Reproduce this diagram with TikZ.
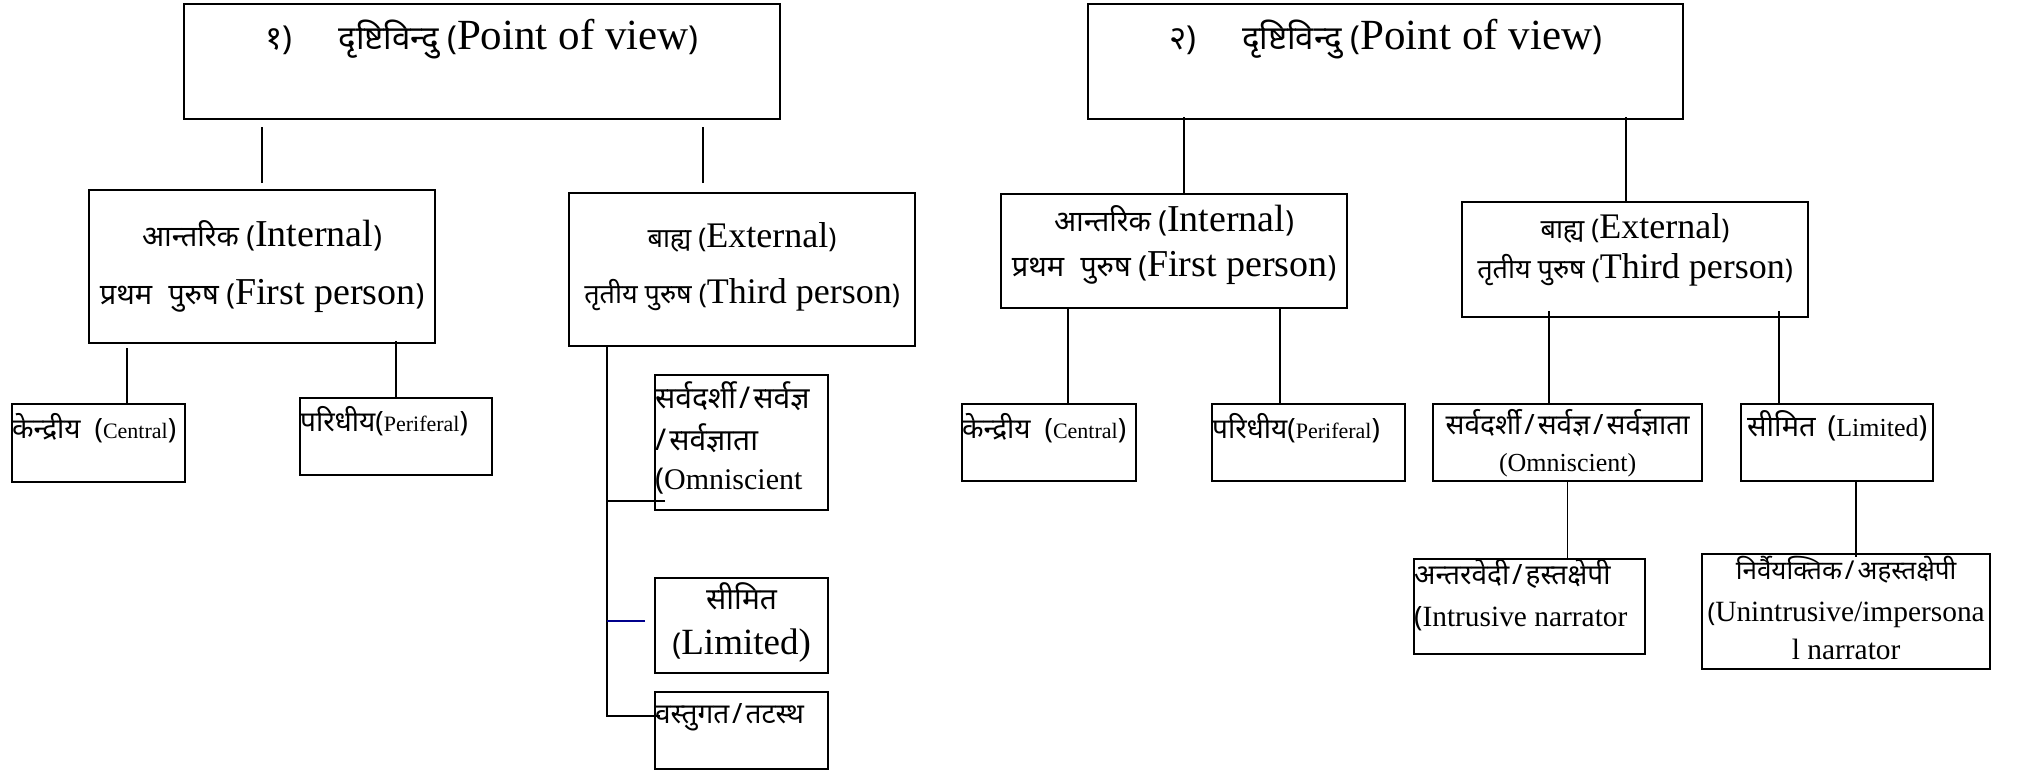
\documentclass[tikz,border=0pt]{standalone}
\usepackage{fontspec}
\setmainfont{Liberation Serif}
\newfontfamily\devfont[Script=Devanagari]{Noto Sans}
\usepackage{tikz}
\definecolor{linkblue}{RGB}{0,0,140}
\setlength{\lineskiplimit}{-100pt}
\tikzstyle{mybox} = [draw=black, line width=1.1pt, rectangle, inner sep=0pt, anchor=north west]
\tikzstyle{link} = [draw=black, line width=0.85pt]
\tikzstyle{bluelink} = [draw=linkblue, line width=0.85pt]
\newcommand{\deva}[2]{{\devfont\fontsize{#1}{#1}\selectfont #2}}
\newcommand{\dslash}{\kern1.5pt/\kern1.5pt}

\begin{document}
\begin{tikzpicture}[x=0.5pt, y=-0.5pt]
\useasboundingbox (0,0) rectangle (2022,771);

\node[mybox] (top1) at (183,3) {\begin{minipage}[t][57.5pt][t]{298pt}\centering\fontsize{21.5}{24}\selectfont
\rule{0pt}{22.5pt}\smash{\deva{16.5}{१)}\hspace{23pt}\deva{16.5}{दृष्टिविन्दु (}Point of view\deva{16.5}{)}}
\end{minipage}};
\node[mybox] (int1) at (88,189) {\begin{minipage}[t][76.5pt][t]{173pt}\centering\fontsize{19}{29}\selectfont
\rule{0pt}{28pt}\smash{\deva{14.5}{आन्तरिक (}Internal\deva{14.5}{)}}\\
\deva{14.5}{प्रथम\hspace{8pt}पुरुष (}First person\deva{14.5}{)}
\end{minipage}};
\node[mybox] (ext1) at (568,192) {\begin{minipage}[t][76.5pt][t]{173pt}\centering\fontsize{18}{28}\selectfont
\rule{0pt}{27pt}\smash{\deva{13.5}{बाह्य (}External\deva{13.5}{)}}\\
\deva{13.5}{तृतीय पुरुष (}Third person\deva{13.5}{)}
\end{minipage}};
\node[mybox] (cen1) at (11,403) {\begin{minipage}[t][39pt][t]{86.5pt}\raggedright\fontsize{11}{14}\selectfont
\rule{0pt}{17pt}\smash{\deva{14}{केन्द्रीय\hspace{7pt}(}Central\deva{14}{)}}
\end{minipage}};
\node[mybox] (per1) at (299,397) {\begin{minipage}[t][38.5pt][t]{96pt}\raggedright\fontsize{11}{14}\selectfont
\rule{0pt}{16.5pt}\smash{\deva{14}{परिधीय(}Periferal\deva{14}{)}}
\end{minipage}};
\node[mybox] (omni1) at (654,374) {\begin{minipage}[t][67.5pt][t]{86.5pt}\raggedright\fontsize{15}{19.5}\selectfont
\rule{0pt}{16.5pt}\smash{\deva{15}{सर्वदर्शी\dslash सर्वज्ञ}}\\
\deva{15}{\kern1.5pt/\kern1.5pt सर्वज्ञाता}\\
\deva{15}{(}Omniscient
\end{minipage}};
\node[mybox] (lim1) at (654,577) {\begin{minipage}[t][47.5pt][t]{86.5pt}\centering\fontsize{18.5}{22.5}\selectfont
\rule{0pt}{15.5pt}\smash{\deva{15}{सीमित}}\\
\deva{15}{(}Limited)
\end{minipage}};
\node[mybox] (obj1) at (654,691) {\begin{minipage}[t][38.5pt][t]{86.5pt}\raggedright\fontsize{14}{18}\selectfont
\rule{0pt}{15.5pt}\smash{\deva{14}{वस्तुगत\dslash तटस्थ}}
\end{minipage}};

\node[mybox] (top2) at (1087,3) {\begin{minipage}[t][57.5pt][t]{297.5pt}\centering\fontsize{21.5}{24}\selectfont
\rule{0pt}{22.5pt}\smash{\deva{16.5}{२)}\hspace{23pt}\deva{16.5}{दृष्टिविन्दु (}Point of view\deva{16.5}{)}}
\end{minipage}};
\node[mybox] (int2) at (1000,193) {\begin{minipage}[t][57pt][t]{173pt}\centering\fontsize{19}{22.5}\selectfont
\rule{0pt}{18.5pt}\smash{\deva{14.5}{आन्तरिक (}Internal\deva{14.5}{)}}\\
\deva{14.5}{प्रथम\hspace{8pt}पुरुष (}First person\deva{14.5}{)}
\end{minipage}};
\node[mybox] (ext2) at (1461,201) {\begin{minipage}[t][57.5pt][t]{173pt}\centering\fontsize{18}{20}\selectfont
\rule{0pt}{18pt}\smash{\deva{13.5}{बाह्य (}External\deva{13.5}{)}}\\
\deva{13.5}{तृतीय पुरुष (}Third person\deva{13.5}{)}
\end{minipage}};
\node[mybox] (cen2) at (961,403) {\begin{minipage}[t][38.5pt][t]{87pt}\raggedright\fontsize{11}{14}\selectfont
\rule{0pt}{17pt}\smash{\deva{14}{केन्द्रीय\hspace{7pt}(}Central\deva{14}{)}}
\end{minipage}};
\node[mybox] (per2) at (1211,403) {\begin{minipage}[t][38.5pt][t]{96.5pt}\raggedright\fontsize{11}{14}\selectfont
\rule{0pt}{17pt}\smash{\deva{14}{परिधीय(}Periferal\deva{14}{)}}
\end{minipage}};
\node[mybox] (omni2) at (1432,403) {\begin{minipage}[t][38.5pt][t]{134.5pt}\centering\fontsize{13}{18.5}\selectfont
\rule{0pt}{15pt}\smash{\deva{14}{सर्वदर्शी\dslash सर्वज्ञ\dslash सर्वज्ञाता}}\\
(Omniscient)
\end{minipage}};
\node[mybox] (lim2) at (1740,403) {\begin{minipage}[t][38.5pt][t]{96pt}\raggedright\fontsize{13}{16}\selectfont
\rule{0pt}{16pt}\hspace*{3pt}\smash{\deva{14.5}{सीमित\hspace{6pt}(}Limited\deva{14.5}{)}}
\end{minipage}};
\node[mybox] (intr) at (1413,558) {\begin{minipage}[t][47.5pt][t]{115.5pt}\raggedright\fontsize{14.7}{21}\selectfont
\rule{0pt}{12.5pt}\smash{\deva{14}{अन्तरवेदी\dslash हस्तक्षेपी}}\\
\deva{14}{(}Intrusive narrator
\end{minipage}};
\node[mybox] (unin) at (1701,553) {\begin{minipage}[t][57.5pt][t]{144pt}\centering\fontsize{14.7}{21.2}\selectfont
\rule{0pt}{12.5pt}\smash{\deva{13}{निर्वैयक्तिक\dslash अहस्तक्षेपी}}\\
\deva{13}{(}Unintrusive/impersona\\[-2.4pt]
l narrator
\end{minipage}};

\coordinate (a2) at ([xshift=-19.5pt]ext1.north);
\coordinate (a3) at ([xshift=14.25pt]cen1.north);
\coordinate (trunk) at ([xshift=19.5pt]ext1.south west);
\coordinate (b1) at ([shift={(5.5pt,5pt)}]omni1.south west);
\coordinate (b2) at ([shift={(-4.5pt,2.25pt)}]lim1.west);
\draw[link, shorten <=3pt, shorten >=3.5pt] (int1.north) -- (int1.north |- top1.south);
\draw[link, shorten <=4.5pt, shorten >=3.5pt] (a2) -- (a2 |- top1.south);
\draw[link, shorten >=2pt] (a3) -- (a3 |- int1.south);
\draw[link, shorten >=-1.5pt] (per1.north) -- (per1.north |- int1.south);
\draw[link] (trunk) |- ([shift={(3pt,-12.5pt)}]obj1.north west);
\draw[link] (b1) -- (b1 -| trunk);
\draw[bluelink] (b2) -- (b2 -| trunk);

\coordinate (c1) at ([xshift=5pt]int2.north);
\coordinate (c2) at ([xshift=-4.5pt]ext2.north);
\coordinate (c3) at ([xshift=9.5pt]cen2.north);
\coordinate (c4) at ([xshift=-14.25pt]per2.north);
\coordinate (c5) at ([xshift=-9.25pt]omni2.north);
\coordinate (c6) at ([xshift=-29pt]lim2.north);
\coordinate (c7) at ([xshift=9.5pt]lim2.south);
\draw[link, shorten >=-1.5pt] (c1) -- (c1 |- top2.south);
\draw[link, shorten >=-1.5pt] (c2) -- (c2 |- top2.south);
\draw[link] (c3) -- (c3 |- int2.south);
\draw[link] (c4) -- (c4 |- int2.south);
\draw[link, shorten >=-3.5pt] (c5) -- (c5 |- ext2.south);
\draw[link, shorten >=-3.5pt] (c6) -- (c6 |- ext2.south);
\draw[link] (omni2.south) -- (omni2.south |- intr.north);
\draw[link, shorten >=-2pt] (c7) -- (c7 |- unin.north);
\end{tikzpicture}
\end{document}
